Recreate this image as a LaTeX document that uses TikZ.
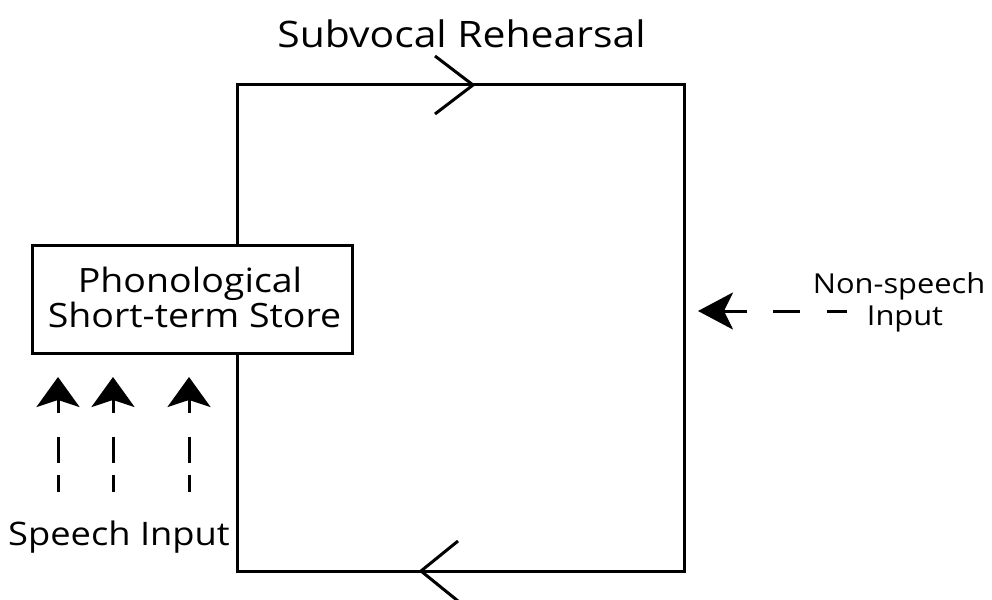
\documentclass[tikz,border=0pt]{standalone}
\usepackage{fontspec}
\setmainfont{Open Sans}[FakeStretch=1.12]
\usetikzlibrary{arrows.meta,calc}
\begin{document}
\begin{tikzpicture}[x=1pt,y=-1pt,
  loopline/.style={line width=3pt, line join=miter},
  chevron/.style={line width=3pt},
  speecharrow/.style={line width=3pt,
    dash pattern=on 17pt off 12pt on 26pt off 24pt on 60pt,
    -{Stealth[length=30pt,width=43pt,inset=7pt]}},
  otherarrow/.style={line width=3pt,
    dash pattern=on 20pt off 27pt on 27pt off 26pt on 80pt,
    -{Stealth[length=35pt,width=37pt,inset=9pt]}},
  lbl/.style={inner sep=0pt, align=center, anchor=base},
  storebox/.style={draw, line width=3pt, minimum width=320pt, minimum height=108pt,
    fill=white, inner sep=0pt}]
\useasboundingbox (0,0) rectangle (992,599);

% corners of the rehearsal loop
\coordinate (tl) at (237,85);
\coordinate (tr) at (684,85);
\coordinate (br) at (684,571);
\coordinate (bl) at (237,571);

% the store
\node[storebox] (store) at (192,299) {};
\node[lbl, font=\fontsize{33.5}{35}\selectfont] (storeA) at (190,292) {Phonological};
\node[lbl, font=\fontsize{33.5}{35}\selectfont] (storeB) at (194.5,327) {Short-term Store};

% loop around the store
\draw[loopline] (store.north -| tl) -- (tl) -- (tr) -- (br) -- (bl) -- (store.south -| bl);

% direction marks on the loop
\coordinate (topmark) at (473,85);
\coordinate (botmark) at (421,571);
\draw[chevron] ($(topmark)+(-38,-29)$) -- (topmark) -- ($(topmark)+(-38,29)$);
\draw[chevron] ($(botmark)+(37,-30)$) -- (botmark) -- ($(botmark)+(37,30)$);

% labels
\node[lbl, font=\fontsize{36.5}{40}\selectfont] (rehearsal) at (461.5,48) {Subvocal Rehearsal};
\node[lbl, font=\fontsize{32.4}{36}\selectfont] (speech) at (119,545) {Speech Input};
\node[lbl, font=\fontsize{27.5}{32}\selectfont] (nonspeechA) at (899,293) {Non-speech};
\node[lbl, font=\fontsize{27.5}{32}\selectfont] (nonspeechB) at (905,325) {Input};

% speech inputs
\coordinate (s1) at (58,492);
\coordinate (s2) at (113,492);
\coordinate (s3) at (189,492);
\coordinate (t1) at (58,377);
\coordinate (t2) at (113,377);
\coordinate (t3) at (189,377);
\draw[speecharrow] (s1) -- (t1);
\draw[speecharrow] (s2) -- (t2);
\draw[speecharrow] (s3) -- (t3);

% non-speech input
\coordinate (ns) at (847,311);
\coordinate (nt) at (698,311);
\draw[otherarrow] (ns) -- (nt);
\end{tikzpicture}
\end{document}
